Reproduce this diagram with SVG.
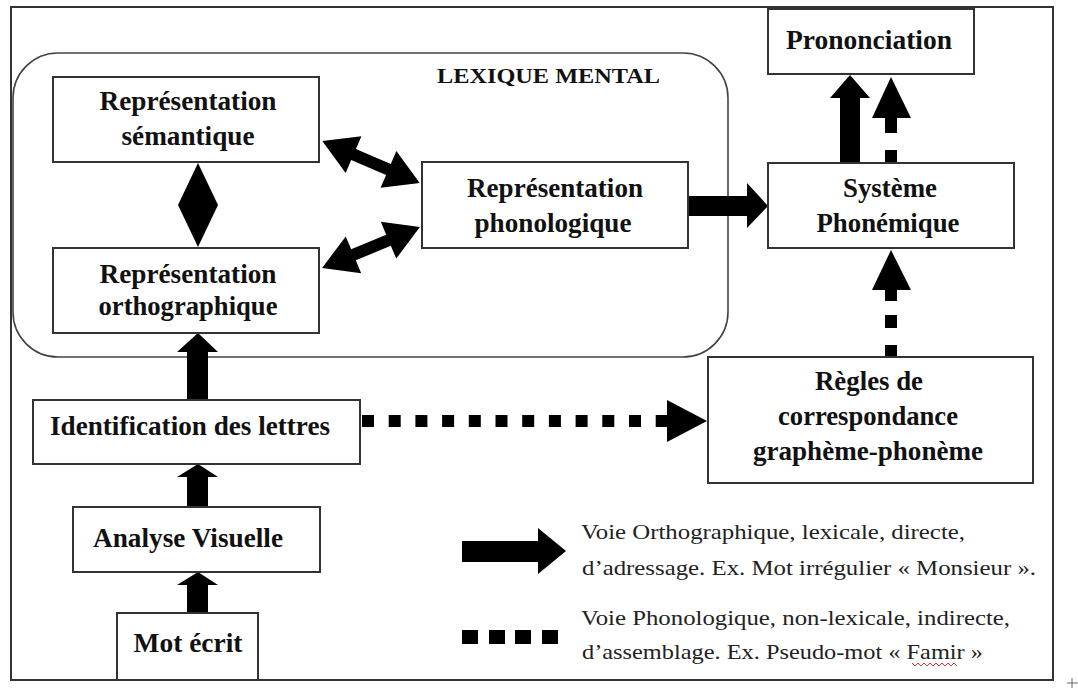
<svg xmlns="http://www.w3.org/2000/svg" width="1078" height="689" viewBox="0 0 1078 689">
<defs>
<style>
.box{fill:#fff;stroke:#333;stroke-width:2}
.frame{fill:none;stroke:#333;stroke-width:2}
.lex{fill:none;stroke:#444;stroke-width:1.6}
.t{font-family:"Liberation Serif","Times New Roman",serif;font-weight:bold;font-size:27px;fill:#111;text-anchor:middle}
.lt{font-family:"Liberation Serif","Times New Roman",serif;font-weight:bold;font-size:22px;fill:#111}
.lg{font-family:"Liberation Serif","Times New Roman",serif;font-size:22px;fill:#222}
.ar{fill:#000}
</style>
<polygon id="dbl" points="-53,0 -19,-20 -19,-6 19,-6 19,-20 53,0 19,20 19,6 -19,6 -19,20"/>
</defs>
<rect width="1078" height="689" fill="#fff"/>
<rect class="frame" x="11" y="7" width="1042" height="673"/>
<g id="lexique-mental">
<rect class="lex" x="13" y="53" width="715" height="304" rx="45" ry="45"/>
<text class="lt" x="437" y="83" textLength="223" lengthAdjust="spacingAndGlyphs">LEXIQUE MENTAL</text>
</g>
<g id="connectors">
<polygon class="ar" points="198,163 218,205 178,205"/>
<polygon class="ar" points="178,205 218,205 198,247"/>
<use href="#dbl" transform="translate(371,162) rotate(23.2)"/>
<use href="#dbl" transform="translate(371,247.5) rotate(-22.7)"/>
<polygon class="ar" points="688,196 747,196 747,183 768,206 747,228 747,216 688,216"/>
<polygon class="ar" points="840,163 840,98 830,98 850,75 870,98 860,98 860,163"/>
<polygon class="ar" points="872,118 891,77 911,118"/>
<rect class="ar" x="885" y="118" width="12" height="15"/>
<rect class="ar" x="885" y="150" width="12" height="13"/>
<polygon class="ar" points="872,290 891,250 911,290"/>
<rect class="ar" x="885" y="289" width="12" height="12"/>
<rect class="ar" x="885" y="315" width="12" height="13"/>
<rect class="ar" x="885" y="345" width="12" height="12"/>
<g class="ar">
<rect x="362" y="415" width="12" height="12"/>
<rect x="388.7" y="415" width="12" height="12"/>
<rect x="415.4" y="415" width="12" height="12"/>
<rect x="442.1" y="415" width="12" height="12"/>
<rect x="468.8" y="415" width="12" height="12"/>
<rect x="495.5" y="415" width="12" height="12"/>
<rect x="522.2" y="415" width="12" height="12"/>
<rect x="548.9" y="415" width="12" height="12"/>
<rect x="575.6" y="415" width="12" height="12"/>
<rect x="602.3" y="415" width="12" height="12"/>
<rect x="629" y="415" width="12" height="12"/>
<rect x="655.7" y="415" width="12" height="12"/>
<polygon points="667,400 707,421 667,442"/>
</g>
<polygon class="ar" points="187,400 187,352 177,352 198,333 218,352 208,352 208,400"/>
<polygon class="ar" points="187,507 187,477 177,477 198,464 218,477 208,477 208,507"/>
<polygon class="ar" points="187,613 187,585 177,585 198,572 218,585 208,585 208,613"/>
</g>
<g id="semantique">
<rect class="box" x="53" y="77" width="266" height="85"/>
<text class="t" x="188" y="110" textLength="177" lengthAdjust="spacingAndGlyphs">Représentation</text>
<text class="t" x="188" y="145" textLength="133" lengthAdjust="spacingAndGlyphs">sémantique</text>
</g>
<g id="orthographique">
<rect class="box" x="53" y="248" width="266" height="85"/>
<text class="t" x="188" y="283" textLength="177" lengthAdjust="spacingAndGlyphs">Représentation</text>
<text class="t" x="188" y="315" textLength="179" lengthAdjust="spacingAndGlyphs">orthographique</text>
</g>
<g id="phonologique">
<rect class="box" x="422" y="162" width="266" height="86"/>
<text class="t" x="555" y="197" textLength="176" lengthAdjust="spacingAndGlyphs">Représentation</text>
<text class="t" x="553" y="232" textLength="157" lengthAdjust="spacingAndGlyphs">phonologique</text>
</g>
<g id="prononciation">
<rect class="box" x="768" y="9" width="206" height="65"/>
<text class="t" x="869" y="49" textLength="166" lengthAdjust="spacingAndGlyphs">Prononciation</text>
</g>
<g id="systeme">
<rect class="box" x="768" y="163" width="246" height="85"/>
<text class="t" x="890" y="197" textLength="94" lengthAdjust="spacingAndGlyphs">Système</text>
<text class="t" x="888" y="232" textLength="143" lengthAdjust="spacingAndGlyphs">Phonémique</text>
</g>
<g id="regles">
<rect class="box" x="708" y="357" width="325" height="126"/>
<text class="t" x="869" y="390" textLength="108" lengthAdjust="spacingAndGlyphs">Règles de</text>
<text class="t" x="868" y="425" textLength="180" lengthAdjust="spacingAndGlyphs">correspondance</text>
<text class="t" x="868" y="460" textLength="230" lengthAdjust="spacingAndGlyphs">graphème-phonème</text>
</g>
<g id="identification">
<rect class="box" x="33" y="400" width="327" height="64"/>
<text class="t" x="190" y="435" textLength="280" lengthAdjust="spacingAndGlyphs">Identification des lettres</text>
</g>
<g id="analyse">
<rect class="box" x="73" y="507" width="247" height="65"/>
<text class="t" x="188" y="547" textLength="190" lengthAdjust="spacingAndGlyphs">Analyse Visuelle</text>
</g>
<g id="mot-ecrit">
<rect class="box" x="117" y="613" width="141" height="67"/>
<text class="t" x="188" y="652" textLength="109" lengthAdjust="spacingAndGlyphs">Mot écrit</text>
</g>
<g id="legend">
<polygon class="ar" points="462,541 538,541 538,528 566,551 538,574 538,562 462,562"/>
<text class="lg" x="581" y="539" textLength="384" lengthAdjust="spacingAndGlyphs">Voie Orthographique, lexicale, directe,</text>
<text class="lg" x="582" y="575" textLength="454" lengthAdjust="spacingAndGlyphs">d’adressage. Ex. Mot irrégulier « Monsieur ».</text>
<rect class="ar" x="462" y="630" width="16" height="14"/>
<rect class="ar" x="489" y="630" width="16" height="14"/>
<rect class="ar" x="515" y="630" width="16" height="14"/>
<rect class="ar" x="542" y="630" width="16" height="14"/>
<text class="lg" x="581" y="625" textLength="429" lengthAdjust="spacingAndGlyphs">Voie Phonologique, non-lexicale, indirecte,</text>
<text class="lg" x="582" y="659" textLength="401" lengthAdjust="spacingAndGlyphs">d’assemblage. Ex. Pseudo-mot « Famir »</text>
<polyline points="912,663 915,666 918,663 921,666 924,663 927,666 930,663 933,666 936,663 939,666 942,663 945,666 948,663 951,666 954,663 957,666" fill="none" stroke="#d33" stroke-width="1"/>
</g>
<path d="M1067 683 H1078 M1072 678 V688" stroke="#666" stroke-width="1"/>
</svg>
